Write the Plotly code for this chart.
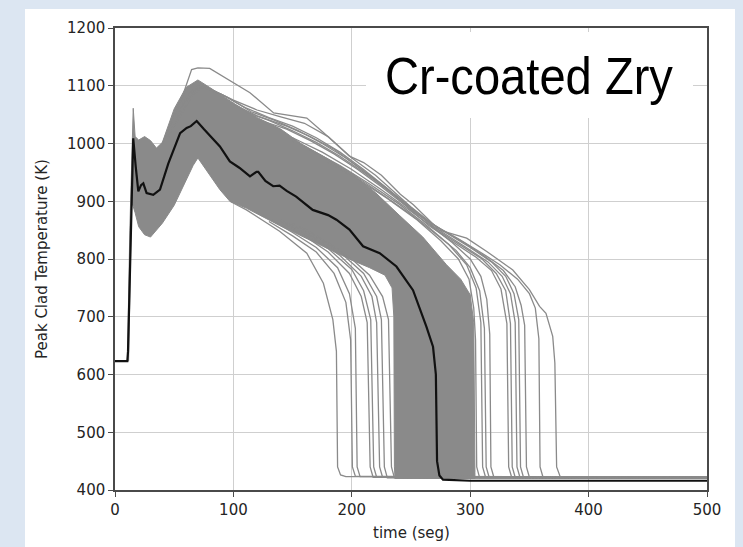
import plotly.graph_objects as go

# ---------------- data ----------------
x_ticks = [0, 100, 200, 300, 400, 500]
y_ticks = [400, 500, 600, 700, 800, 900, 1000, 1100, 1200]

# nominal (black) case
nominal_t = [0, 10.4, 11, 13.5, 15.4, 17.5, 19.7, 22, 23.9, 26.7, 32.3, 38, 45, 55, 60.5, 64, 69,
             75, 88.6, 97, 105, 114, 119.5, 121, 127, 133.6, 139, 145, 153, 167, 180, 187, 198,
             209.5, 223.6, 237.7, 251.7, 263, 268.6, 271, 272, 274, 277, 300, 500]
nominal_T = [623, 623, 640, 880, 1009, 960, 917, 928, 931, 914, 911, 920, 965, 1018, 1027, 1030, 1039,
             1025, 995, 969, 958, 943, 951, 951, 935, 926, 927, 918, 908, 885, 876, 868, 851,
             822, 810, 787, 746, 683, 648, 600, 450, 425, 418, 416, 416]

# dense envelope of the sampled (gray) cases
band_top_t = [10.5, 12.5, 15.4, 17, 20, 25, 30, 35, 40, 50, 60, 70, 80, 90, 100, 120, 140, 157,
              180, 200, 220, 240, 260, 280, 292, 300, 303, 304, 304]
band_top_T = [623, 850, 1061, 1012, 1006, 1012, 1005, 992, 1002, 1060, 1097, 1110, 1097, 1083, 1070,
              1045, 1025, 1000, 973, 948, 915, 876, 838, 790, 765, 738, 690, 430, 420]
band_bot_t = [11.5, 14, 17, 20, 25, 30, 40, 50, 60, 66, 70, 75, 80, 88.6, 97, 111, 139, 162, 180,
              200, 215, 228, 234, 235.5, 236, 236.5]
band_bot_T = [623, 900, 880, 856, 842, 838, 862, 893, 935, 962, 975, 960, 945, 920, 900, 888, 858,
              835, 818, 798, 785, 772, 750, 700, 440, 420]

# individual gray cases that stand out from the envelope: (time, temperature)
early_1 = [(97, 900), (111, 885), (139, 848), (162, 810), (176, 758), (184, 695), (187, 640), (188, 440), (190.5, 426), (195, 423), (500, 423)]
early_2 = [(130, 865), (150, 840), (170, 812), (185, 775), (195, 725), (199, 660), (200.5, 440), (203, 424), (500, 422)]
early_3 = [(130, 870), (150, 846), (170, 820), (188, 785), (198, 740), (203, 680), (204.5, 440), (207, 423), (500, 422)]
early_4 = [(140, 865), (160, 840), (180, 812), (198, 775), (208, 735), (213, 690), (215.5, 440), (218, 422), (500, 421)]
early_5 = [(140, 868), (160, 845), (180, 818), (200, 782), (210, 745), (216, 695), (218.5, 440), (221, 422), (500, 421)]
early_6 = [(150, 860), (170, 835), (190, 806), (208, 770), (217, 735), (221, 690), (223.5, 440), (226, 422), (500, 421)]
early_7 = [(150, 862), (170, 840), (190, 812), (210, 775), (221, 735), (225, 695), (227.5, 440), (230, 421), (500, 421)]
early_8 = [(160, 852), (180, 828), (200, 800), (215, 772), (226, 735), (231, 695), (233.5, 440), (236, 421), (500, 420)]

late_305 = [(180, 968), (205, 938), (230, 905), (255, 868), (275, 832), (290, 800), (299, 765), (303, 715), (304.5, 660), (305.5, 440), (308, 421), (500, 420)]
late_310 = [(160, 995), (190, 962), (215, 930), (240, 895), (262, 860), (282, 825), (297, 790), (305, 750), (309, 690), (310.5, 440), (313, 422), (500, 420)]
late_313 = [(150, 1005), (175, 978), (200, 948), (225, 912), (248, 880), (268, 848), (288, 815), (300, 785), (308, 745), (312, 680), (313.5, 440), (316, 422), (500, 420)]
late_317 = [(150, 1010), (175, 985), (200, 955), (225, 920), (245, 890), (265, 860), (285, 828), (300, 800), (309, 770), (314, 730), (316.5, 670), (317.5, 440), (320, 422), (500, 420)]
late_332 = [(120, 1042), (145, 1025), (165, 1005), (185, 982), (205, 955), (225, 925), (245, 893), (265, 858), (288, 826), (305, 803), (318, 780), (326, 748), (331, 688), (332.5, 440), (335, 422), (500, 421)]
late_335 = [(110, 1055), (130, 1040), (150, 1022), (170, 1002), (190, 978), (210, 950), (230, 920), (250, 888), (272, 850), (292, 824), (310, 800), (322, 775), (330, 745), (334, 688), (335.5, 440), (338, 422), (500, 421)]
late_339 = [(100, 1068), (120, 1048), (145, 1030), (165, 1012), (185, 990), (205, 960), (225, 930), (245, 898), (270, 855), (295, 822), (315, 795), (327, 770), (334, 740), (338, 690), (339.5, 440), (342, 422), (500, 421)]
late_342 = [(60, 1075), (75, 1100), (95, 1080), (115, 1055), (135, 1040), (155, 1022), (175, 1000), (195, 975), (215, 945), (235, 912), (255, 878), (280, 845), (300, 820), (318, 795), (330, 770), (337, 740), (341, 695), (342.5, 440), (345, 422), (500, 421)]
late_347 = [(50, 1030), (70, 1100), (90, 1085), (110, 1062), (130, 1045), (150, 1030), (170, 1010), (190, 985), (210, 955), (230, 922), (250, 885), (275, 852), (295, 828), (312, 805), (328, 780), (338, 752), (343, 720), (346, 685), (347.5, 440), (350, 422), (500, 421)]
late_358 = [(45, 1010), (60, 1080), (70, 1100), (85, 1090), (100, 1075), (120, 1058), (140, 1046), (160, 1035), (180, 1012), (200, 975), (220, 945), (250, 890), (270, 858), (290, 835), (310, 810), (325, 790), (340, 765), (350, 740), (355, 715), (358, 662), (359, 440), (361.5, 422), (500, 421)]
late_372 = [(40, 1000), (56, 1076), (64.7, 1128), (70, 1131), (80, 1130), (90, 1118), (100, 1105), (114, 1088), (134, 1053), (150, 1048), (162, 1044), (176, 1019), (198, 978), (210, 967), (225, 945), (241, 912), (252, 894), (274, 850), (297, 836), (314, 813), (322, 801), (336, 781), (350, 747), (358.6, 718), (364, 706), (369.7, 666), (371.5, 620), (373, 440), (376, 423), (500, 422)]

gray_cases = [early_1, early_2, early_3, early_4, early_5, early_6, early_7, early_8,
              late_305, late_310, late_313, late_317, late_332, late_335, late_339,
              late_342, late_347, late_358, late_372]

# ---------------- figure ----------------
GRAY = "#8a8a8a"
fig = go.Figure()

poly_t = band_top_t + band_bot_t[::-1]
poly_T = band_top_T + band_bot_T[::-1]
fig.add_trace(go.Scatter(x=poly_t, y=poly_T, mode="lines", fill="toself",
                         fillcolor=GRAY, line=dict(color=GRAY, width=1),
                         hoverinfo="skip", showlegend=False))

for case in gray_cases:
    fig.add_trace(go.Scatter(x=[p[0] for p in case], y=[p[1] for p in case], mode="lines",
                             line=dict(color=GRAY, width=1.3), hoverinfo="skip", showlegend=False))

fig.add_trace(go.Scatter(x=nominal_t, y=nominal_T, mode="lines",
                         line=dict(color="#111111", width=2.2), showlegend=False))

L, R, T, B = 115, 36, 28, 57
W, H = 743, 547
pw, ph = W - L - R, H - T - B

def px_x(px):
    return (px - L) / pw

def px_y(py):
    return (H - B - py) / ph

axis_common = dict(showline=True, mirror=True, linecolor="#4a4a4a", linewidth=1.5,
                   ticks="outside", ticklen=5, tickcolor="#4a4a4a", tickwidth=1.2,
                   showgrid=True, gridcolor="#cfcfcf", gridwidth=1.2, zeroline=False,
                   tickfont=dict(family="DejaVu Sans", size=15, color="#242424"))

fig.update_xaxes(range=[0, 500], tickvals=x_ticks, **axis_common)
fig.update_yaxes(range=[400, 1200], tickvals=y_ticks, **axis_common)

fig.update_layout(
    width=W, height=H,
    margin=dict(l=L, r=R, t=T, b=B),
    paper_bgcolor="#dce6f2",
    plot_bgcolor="white",
    shapes=[
        dict(type="rect", xref="paper", yref="paper", layer="below",
             x0=px_x(25), x1=px_x(735), y0=px_y(549), y1=px_y(9),
             fillcolor="white", line=dict(width=0)),
        dict(type="rect", xref="paper", yref="paper", layer="above",
             x0=px_x(366), x1=px_x(693), y0=px_y(118), y1=px_y(32),
             fillcolor="white", line=dict(width=0)),
    ],
    annotations=[
        dict(text="Cr-coated Zry", xref="paper", yref="paper", x=px_x(529), y=px_y(76),
             xanchor="center", yanchor="middle", showarrow=False,
             font=dict(family="Liberation Sans", size=52, color="black")),
        dict(text="time (seg)", xref="paper", yref="paper", x=0.5, y=px_y(533),
             xanchor="center", yanchor="middle", showarrow=False,
             font=dict(family="DejaVu Sans", size=15, color="#242424")),
        dict(text="Peak Clad Temperature (K)", xref="paper", yref="paper", x=px_x(42), y=0.5,
             xanchor="center", yanchor="middle", showarrow=False, textangle=-90,
             font=dict(family="DejaVu Sans", size=15, color="#242424")),
    ],
)

post = """
document.body.style.margin = '0';
document.body.style.overflow = 'hidden';
var t = document.querySelectorAll('.annotation-text');
for (var i = 0; i < t.length; i++) {
  if (t[i].textContent === 'Cr-coated Zry') {
    t[i].setAttribute('textLength', '288');
    t[i].setAttribute('lengthAdjust', 'spacingAndGlyphs');
  }
}
"""
fig.write_html("out.html", post_script=post, config={"displayModeBar": False})
